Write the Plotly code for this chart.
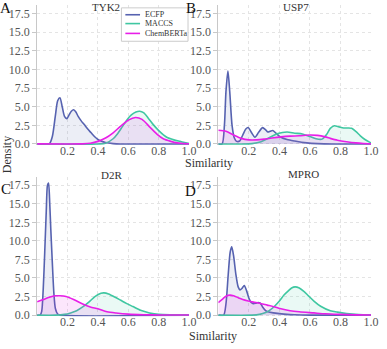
####################################################################################################################
# plot.py
#
# KDE of similarity scores per target (ECFP / MACCS / ChemBERTa), 2x2 panels

####################################################################################################################
# IMPORTS
import plotly.graph_objects as go
from plotly.subplots import make_subplots

####################################################################################################################
# DATA

targets = ['TYK2', 'USP7', 'D2R', 'MPRO']
letters = ['A', 'B', 'C', 'D']
methods = ['ECFP', 'MACCS', 'ChemBERTa']

# TYK2
tyk2_ecfp_x = [0, 0.08, 0.10, 0.12, 0.135, 0.15, 0.165, 0.18, 0.195, 0.21, 0.225, 0.24, 0.255, 0.27, 0.29, 0.31,
               0.333, 0.355, 0.377, 0.40, 0.42, 0.45, 0.5, 0.55, 1.0]
tyk2_ecfp_y = [0, 0, 1.0, 3.8, 5.8, 6.2, 5.0, 3.7, 3.4, 3.9, 4.4, 4.6, 4.3, 3.7, 3.1, 2.6,
               2.0, 1.5, 1.0, 0.6, 0.4, 0.2, 0.05, 0, 0]
tyk2_maccs_x = [0, 0.40, 0.45, 0.50, 0.528, 0.56, 0.593, 0.62, 0.65, 0.675, 0.70, 0.73, 0.76, 0.80, 0.853, 0.90,
                0.94, 0.97, 1.0]
tyk2_maccs_y = [0, 0, 0.1, 0.7, 1.35, 2.3, 3.3, 3.9, 4.3, 4.4, 4.2, 3.5, 2.7, 1.8, 0.9, 0.55,
                0.35, 0.2, 0.05]
tyk2_bert_x = [0, 0.30, 0.35, 0.40, 0.45, 0.50, 0.55, 0.60, 0.647, 0.69, 0.745, 0.79, 0.83, 0.88, 0.92, 0.96, 1.0]
tyk2_bert_y = [0.02, 0.02, 0.1, 0.35, 0.8, 1.5, 2.4, 3.2, 3.55, 3.3, 2.2, 1.3, 0.7, 0.35, 0.15, 0.07, 0.03]

# USP7
usp7_ecfp_x = [0, 0.025, 0.04, 0.05, 0.063, 0.075, 0.09, 0.105, 0.12, 0.14, 0.16, 0.18, 0.196, 0.215, 0.24, 0.265,
               0.29, 0.31, 0.325, 0.34, 0.357, 0.38, 0.41, 0.45, 0.50, 0.58, 0.65, 0.75, 1.0]
usp7_ecfp_y = [0, 0, 2.5, 7.0, 9.8, 7.0, 2.5, 0.8, 0.35, 0.4, 1.2, 2.0, 2.2, 1.6, 0.9, 1.6,
               2.2, 1.9, 1.6, 1.7, 1.8, 1.4, 0.9, 0.6, 0.4, 0.15, 0.05, 0, 0]
usp7_maccs_x = [0, 0.15, 0.22, 0.28, 0.33, 0.39, 0.45, 0.50, 0.55, 0.60, 0.64, 0.68, 0.71, 0.733, 0.76, 0.79, 0.82,
                0.85, 0.873, 0.90, 0.93, 0.96, 0.99, 1.0]
usp7_maccs_y = [0, 0, 0.05, 0.3, 0.8, 1.4, 1.6, 1.45, 1.35, 1.0, 0.7, 0.65, 1.3, 2.1, 2.45, 2.3, 2.15,
                2.15, 2.1, 1.7, 1.1, 0.6, 0.25, 0.15]
usp7_bert_x = [0, 0.05, 0.10, 0.15, 0.20, 0.25, 0.30, 0.35, 0.41, 0.47, 0.53, 0.60, 0.65, 0.70, 0.733, 0.78, 0.84,
               0.90, 0.95, 1.0]
usp7_bert_y = [1.85, 1.7, 1.2, 0.75, 0.55, 0.55, 0.65, 0.8, 0.95, 1.05, 1.1, 1.2, 1.15, 0.95, 0.75, 0.5, 0.3,
               0.15, 0.07, 0.03]

# D2R
d2r_ecfp_x = [0, 0.02, 0.03, 0.04, 0.05, 0.06, 0.068, 0.075, 0.083, 0.09, 0.10, 0.11, 0.12, 0.135, 0.15, 1.0]
d2r_ecfp_y = [0, 0, 0.5, 3.5, 8.5, 14.0, 17.5, 17.8, 15.0, 11.5, 7.0, 3.0, 0.9, 0.15, 0, 0]
d2r_maccs_x = [0, 0.12, 0.18, 0.22, 0.26, 0.30, 0.34, 0.38, 0.42, 0.44, 0.47, 0.51, 0.55, 0.59, 0.63, 0.68, 0.74,
               0.80, 0.88, 1.0]
d2r_maccs_y = [0, 0, 0.1, 0.3, 0.6, 1.1, 1.75, 2.5, 2.95, 3.0, 2.85, 2.45, 2.0, 1.55, 1.15, 0.65, 0.3,
               0.1, 0.03, 0]
d2r_bert_x = [0, 0.04, 0.08, 0.12, 0.15, 0.19, 0.24, 0.30, 0.35, 0.40, 0.46, 0.52, 0.60, 0.70, 0.80, 0.90, 1.0]
d2r_bert_y = [1.8, 2.1, 2.4, 2.6, 2.6, 2.5, 2.1, 1.5, 1.1, 0.85, 0.45, 0.28, 0.13, 0.05, 0.02, 0.01, 0.01]

# MPRO
mpro_ecfp_x = [0, 0.035, 0.05, 0.065, 0.078, 0.088, 0.10, 0.115, 0.13, 0.142, 0.155, 0.17, 0.185, 0.20, 0.215,
               0.228, 0.245, 0.26, 0.275, 0.29, 0.31, 0.325, 0.36, 0.40, 0.45, 0.5, 0.6, 1.0]
mpro_ecfp_y = [0, 0, 1.5, 5.5, 8.5, 9.2, 8.0, 5.5, 3.8, 3.4, 3.6, 4.0, 3.3, 2.3, 1.7,
               1.55, 1.6, 1.7, 1.6, 1.1, 0.6, 0.45, 0.3, 0.2, 0.1, 0.05, 0, 0]
mpro_maccs_x = [0, 0.22, 0.27, 0.31, 0.34, 0.368, 0.40, 0.43, 0.46, 0.48, 0.503, 0.53, 0.56, 0.59, 0.626, 0.67,
                0.733, 0.78, 0.84, 0.92, 1.0]
mpro_maccs_y = [0, 0, 0.1, 0.35, 0.7, 1.2, 1.9, 2.7, 3.3, 3.65, 3.8, 3.65, 3.2, 2.6, 1.9, 1.2,
                0.6, 0.4, 0.22, 0.08, 0.02]
mpro_bert_x = [0, 0.03, 0.05, 0.077, 0.10, 0.13, 0.16, 0.196, 0.23, 0.27, 0.32, 0.37, 0.41, 0.47, 0.53, 0.626,
               0.70, 0.80, 0.90, 1.0]
mpro_bert_y = [1.7, 2.2, 2.55, 2.7, 2.6, 2.35, 2.1, 1.9, 1.75, 1.6, 1.35, 1.1, 0.85, 0.6, 0.45, 0.3,
               0.18, 0.1, 0.04, 0.02]

panel_data = [
    [(tyk2_ecfp_x, tyk2_ecfp_y), (tyk2_maccs_x, tyk2_maccs_y), (tyk2_bert_x, tyk2_bert_y)],
    [(usp7_ecfp_x, usp7_ecfp_y), (usp7_maccs_x, usp7_maccs_y), (usp7_bert_x, usp7_bert_y)],
    [(d2r_ecfp_x, d2r_ecfp_y), (d2r_maccs_x, d2r_maccs_y), (d2r_bert_x, d2r_bert_y)],
    [(mpro_ecfp_x, mpro_ecfp_y), (mpro_maccs_x, mpro_maccs_y), (mpro_bert_x, mpro_bert_y)],
]

x_ticks = [0.2, 0.4, 0.6, 0.8, 1.0]
x_tick_text = ['0.2', '0.4', '0.6', '0.8', '1.0']
y_ticks = [0, 2.5, 5, 7.5, 10, 12.5, 15, 17.5]
y_tick_text = ['0.0', '2.5', '5.0', '7.5', '10.0', '12.5', '15.0', '17.5']

####################################################################################################################
# STYLE

FONT = '"Liberation Serif", "Times New Roman", serif'
line_colors = ['#5662b0', '#3fc7a1', '#e81ee8']
fill_colors = ['rgba(86,98,176,0.11)', 'rgba(63,199,161,0.11)', 'rgba(232,30,232,0.11)']

W, H = 387, 349

# panel domains in paper coords (no margins)
x_domains = [[0.098, 0.499], [0.576, 0.979], [0.098, 0.499], [0.576, 0.979]]
y_domains = [[0.577, 0.984], [0.577, 0.984], [0.078, 0.484], [0.078, 0.484]]

def px(x, y):
    # pixel position -> paper coords
    return x / W, 1 - y / H

def label(text, x, y, size, color='#333', angle=0, xanchor='center'):
    # text placed by its centre at pixel (x, y)
    ax_, ay_ = px(x, y)
    fig.add_annotation(text=text, x=ax_, y=ay_, xref='paper', yref='paper', showarrow=False,
                       xanchor=xanchor, yanchor='middle', textangle=angle,
                       font=dict(family=FONT, size=size, color=color))

####################################################################################################################
# FIGURE

fig = make_subplots(rows=2, cols=2)

for p in range(4):
    row, col = p // 2 + 1, p % 2 + 1
    for m in range(3):
        xs, ys = panel_data[p][m]
        fig.add_trace(go.Scatter(x=xs, y=ys, mode='lines', name=methods[m],
                                 line=dict(color=line_colors[m], width=1.6, shape='spline', smoothing=0.7),
                                 fill='tozeroy', fillcolor=fill_colors[m],
                                 showlegend=False),
                      row=row, col=col)

    ax = '' if p == 0 else str(p + 1)
    fig.layout['xaxis' + ax].update(domain=x_domains[p])
    fig.layout['yaxis' + ax].update(domain=y_domains[p])

fig.update_xaxes(range=[0, 1], tickvals=x_ticks, ticktext=x_tick_text,
                 showgrid=True, gridcolor='#e4e4e4', griddash='dot', gridwidth=1,
                 zeroline=False, showline=False, ticks='', ticklabelstandoff=-3,
                 tickfont=dict(family=FONT, size=12, color='#555'))
fig.update_yaxes(range=[-0.15, 18.6], tickvals=y_ticks, ticktext=y_tick_text,
                 showgrid=True, gridcolor='#e4e4e4', griddash='dot', gridwidth=1,
                 zeroline=False, showline=True, linecolor='#c8c8c8', linewidth=1,
                 ticks='outside', ticklen=4, tickcolor='#c8c8c8',
                 tickfont=dict(family=FONT, size=12, color='#555'))

# titles / panel letters / axis labels
title_pos = [(108, 7), (302, 7), (114, 178), (310, 177)]
letter_pos = [(6, 8), (195, 8), (6, 192), (195, 194)]
for p in range(4):
    label(targets[p], title_pos[p][0], title_pos[p][1], 11)
    label(letters[p], letter_pos[p][0], letter_pos[p][1], 15, color='#111')

label('Density', 7, 157, 12, angle=-90)
label('Similarity', 213, 166, 12)
label('Similarity', 217, 342, 12)

# legend box drawn by hand (plotly's legend rows are too tall at this size)
bx0, by0 = px(124, 8)
bx1, by1 = px(192, 42)
fig.add_shape(type='rect', xref='paper', yref='paper', x0=bx0, y0=by0, x1=bx1, y1=by1,
              line=dict(color='#cccccc', width=1), fillcolor='white', layer='above')
legend_rows = [15, 24, 34]
for m in range(3):
    x0, yy = px(128, legend_rows[m])
    x1, _ = px(143, legend_rows[m])
    fig.add_shape(type='line', xref='paper', yref='paper', x0=x0, y0=yy, x1=x1, y1=yy,
                  line=dict(color=line_colors[m], width=1.6), layer='above')
    label(methods[m], 146, legend_rows[m], 8, xanchor='left')

fig.update_layout(
    width=W, height=H,
    margin=dict(l=0, r=0, t=0, b=0),
    paper_bgcolor='white', plot_bgcolor='white',
    showlegend=False,
)

# the page body has a default 8px margin; drop it so the figure sits at the window corner
fig.write_html("out.html", config={'displayModeBar': False},
               post_script="document.body.style.margin='0';")
